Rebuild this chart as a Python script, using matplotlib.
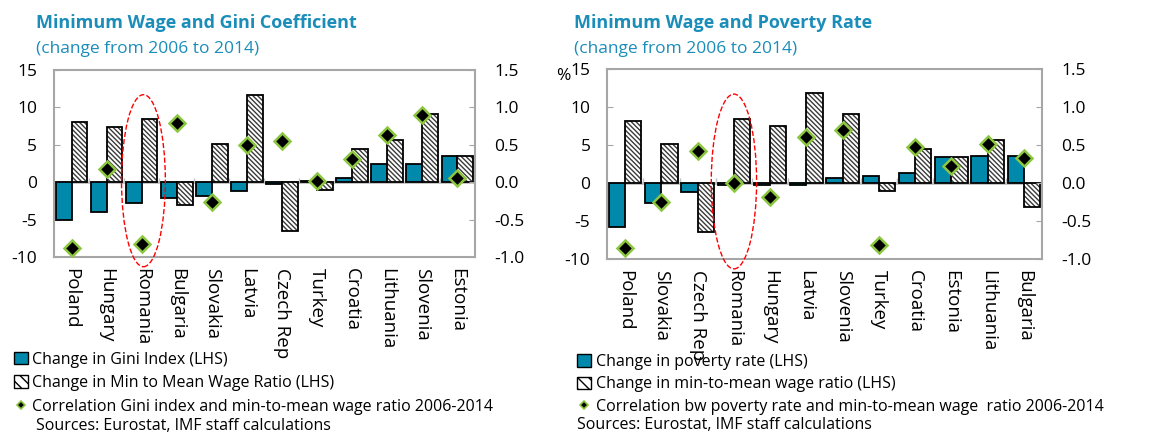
import matplotlib
matplotlib.use("Agg")
import matplotlib.pyplot as plt
import numpy as np
from matplotlib.patches import Patch, Ellipse
from matplotlib.lines import Line2D

plt.rcParams['font.family'] = ['Open Sans', 'DejaVu Sans']
plt.rcParams['hatch.linewidth'] = 1.0
plt.rcParams['axes.unicode_minus'] = False

# left panel: Gini
gini_countries = ['Poland', 'Hungary', 'Romania', 'Bulgaria', 'Slovakia', 'Latvia',
                  'Czech Rep', 'Turkey', 'Croatia', 'Lithuania', 'Slovenia', 'Estonia']
gini_change = [-5.0, -4.0, -2.8, -2.1, -1.9, -1.2, -0.2, 0.2, 0.5, 2.5, 2.5, 3.5]
gini_wage_ratio = [8.1, 7.4, 8.4, -3.0, 5.1, 11.7, -6.5, -1.0, 4.4, 5.6, 9.1, 3.5]
gini_corr = [-0.88, 0.18, -0.82, 0.79, -0.27, 0.50, 0.55, 0.02, 0.31, 0.63, 0.90, 0.06]

# right panel: poverty
pov_countries = ['Poland', 'Slovakia', 'Czech Rep', 'Romania', 'Hungary', 'Latvia',
                 'Slovenia', 'Turkey', 'Croatia', 'Estonia', 'Lithuania', 'Bulgaria']
pov_change = [-5.8, -2.6, -1.2, -0.3, -0.3, -0.3, 0.6, 0.9, 1.3, 3.4, 3.6, 3.6]
pov_wage_ratio = [8.1, 5.2, -6.5, 8.4, 7.5, 11.8, 9.1, -1.0, 4.5, 3.4, 5.7, -3.1]
pov_corr = [-0.86, -0.25, 0.42, 0.0, -0.18, 0.60, 0.70, -0.81, 0.47, 0.22, 0.51, 0.33]

TEAL = '#0089AA'
GREEN = '#8CC63F'
GREY = '#A6A6A6'
HATCH_COL = '#3A3A3A'
TITLE_COL = '#1B8DB9'
HATCH = '\\' * 7


def draw_panel(fig, rect, countries, change, ratio, corr, ell_x):
    ax = fig.add_axes(rect)
    x = np.arange(len(countries))
    w = 0.45
    ax.axhline(0, color='#BFBFBF', lw=2, zorder=1)
    ax.vlines(x[:-1] + 0.5, 0, 0.6, color='#BFBFBF', lw=1, zorder=1)
    ax.bar(x - w / 2, change, w, color=TEAL, edgecolor='black', lw=1.3, zorder=2)
    # hatch drawn in grey, outline in black on top
    ax.bar(x + w / 2, ratio, w, color='white', edgecolor=HATCH_COL, lw=0,
           hatch=HATCH, zorder=2)
    ax.bar(x + w / 2, ratio, w, fill=False, edgecolor='black', lw=1.3, zorder=3)
    ax.set_xlim(-0.5, len(countries) - 0.5)
    ax.set_ylim(-10, 15)
    ax.set_yticks([-10, -5, 0, 5, 10, 15])
    ax.set_xticks(x)
    ax.set_xticklabels(countries, rotation=270, fontsize=13.5)
    ax.tick_params(axis='x', length=0, pad=8)
    ax.tick_params(axis='y', direction='in', length=4, color=GREY, labelsize=12.5, pad=12)
    for s in ax.spines.values():
        s.set_color(GREY)
        s.set_linewidth(1.5)

    ax.add_patch(Ellipse((ell_x, 0.2), 1.25, 23.0, fill=False, ec='red', ls='--',
                         lw=1, clip_on=False, zorder=5))

    ax2 = ax.twinx()
    ax2.set_ylim(-1.0, 1.5)
    ax2.set_yticks([-1.0, -0.5, 0.0, 0.5, 1.0, 1.5])
    ax2.set_yticklabels(['-1.0', '-0.5', '0.0', '0.5', '1.0', '1.5'])
    ax2.tick_params(axis='y', direction='in', length=4, color=GREY, labelsize=12.5, pad=14)
    for s in ax2.spines.values():
        s.set_visible(False)
    ax2.plot(x, corr, 'D', color='black', mec=GREEN, mew=1.8, ms=8, zorder=6, clip_on=False)
    return ax


fig = plt.figure(figsize=(11.69, 4.33), dpi=100)

draw_panel(fig, [0.0462, 0.4065, 0.360, 0.4318], gini_countries, gini_change,
           gini_wage_ratio, gini_corr, 2.05)
draw_panel(fig, [0.5193, 0.4018, 0.3721, 0.4388], pov_countries, pov_change,
           pov_wage_ratio, pov_corr, 3.0)

fig.text(0.031, 0.935, 'Minimum Wage and Gini Coefficient', color=TITLE_COL,
         fontsize=13, fontweight='bold')
fig.text(0.031, 0.878, '(change from 2006 to 2014)', color=TITLE_COL, fontsize=12.5)
fig.text(0.491, 0.935, 'Minimum Wage and Poverty Rate', color=TITLE_COL,
         fontsize=13, fontweight='bold')
fig.text(0.491, 0.878, '(change from 2006 to 2014)', color=TITLE_COL, fontsize=12.5)
fig.text(0.476, 0.815, '%', fontsize=12.5)

diamond = Line2D([], [], marker='D', color='black', mec=GREEN, mew=1.2, ms=4.5, ls='none')
teal_box = Patch(facecolor=TEAL, edgecolor='black')
hatch_box = Patch(facecolor='white', edgecolor='black', hatch='\\\\\\')

fig.legend([teal_box, hatch_box, diamond],
           ['Change in Gini Index (LHS)', 'Change in Min to Mean Wage Ratio (LHS)',
            'Correlation Gini index and min-to-mean wage ratio 2006-2014'],
           loc='upper left', bbox_to_anchor=(0.012, 0.188), frameon=False,
           fontsize=11.5, handlelength=0.85, handleheight=0.85, handletextpad=0.3,
           labelspacing=0.47, borderpad=0, borderaxespad=0)
fig.text(0.031, 0.007, 'Sources: Eurostat, IMF staff calculations', fontsize=11.5)

fig.legend([teal_box, hatch_box, diamond],
           ['Change in poverty rate (LHS)', 'Change in min-to-mean wage ratio (LHS)',
            'Correlation bw poverty rate and min-to-mean wage  ratio 2006-2014'],
           loc='upper left', bbox_to_anchor=(0.494, 0.183), frameon=False,
           fontsize=11.5, handlelength=0.85, handleheight=0.85, handletextpad=0.3,
           labelspacing=0.42, borderpad=0, borderaxespad=0)
fig.text(0.494, 0.009, 'Sources: Eurostat, IMF staff calculations', fontsize=11.5)

fig.savefig('out.png', dpi=100)
